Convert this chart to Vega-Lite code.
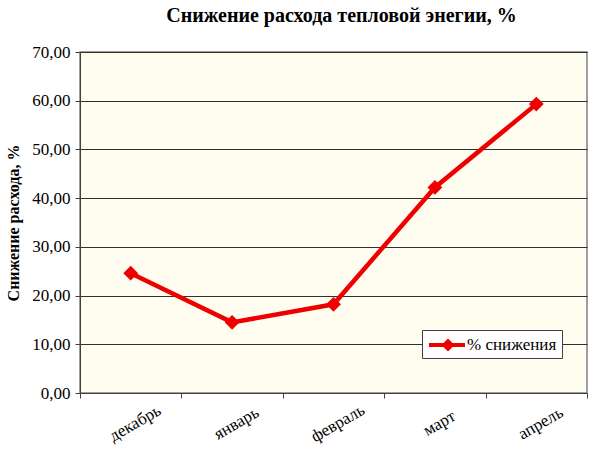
{
  "$schema": "https://vega.github.io/schema/vega-lite/v6.json",
  "width": 507,
  "height": 341,
  "autosize": {"type": "none"},
  "padding": {"left": 80, "top": 52, "right": 13, "bottom": 62},
  "background": "#ffffff",
  "title": {
    "text": "Снижение расхода тепловой энегии, %",
    "font": "Liberation Serif",
    "fontSize": 20,
    "fontWeight": "bold",
    "color": "#000000",
    "anchor": "middle",
    "offset": 17,
    "dx": 8
  },
  "config": {
    "view": {"fill": "#FFFCF0", "stroke": "#808080", "strokeWidth": 1.5},
    "font": "Liberation Serif",
    "axis": {"labelFont": "Liberation Serif", "titleFont": "Liberation Serif"},
    "legend": {"labelFont": "Liberation Serif"}
  },
  "data": {
    "values": [
      {"month": "декабрь", "value": 24.6, "series": "% снижения"},
      {"month": "январь", "value": 14.5, "series": "% снижения"},
      {"month": "февраль", "value": 18.2, "series": "% снижения"},
      {"month": "март", "value": 42.2, "series": "% снижения"},
      {"month": "апрель", "value": 59.3, "series": "% снижения"}
    ]
  },
  "encoding": {
    "x": {
      "field": "month",
      "type": "nominal",
      "sort": null,
      "bandPosition": 0.5,
      "scale": {"type": "band", "paddingInner": 0, "paddingOuter": 0},
      "axis": {
        "title": null,
        "labelAngle": -30,
        "labelAlign": "center",
        "labelBaseline": "top",
        "labelPadding": 18,
        "labelFontSize": 17,
        "labelColor": "#000000",
        "labelDx": -4,
        "domainColor": "#404040",
        "tickColor": "#404040",
        "tickBand": "extent",
        "tickSize": 5,
        "grid": false
      }
    },
    "y": {
      "field": "value",
      "type": "quantitative",
      "scale": {"domain": [0, 70], "nice": false},
      "axis": {
        "title": "Снижение расхода, %",
        "titleFontSize": 16,
        "titleFontWeight": "bold",
        "titleColor": "#000000",
        "titlePadding": 10,
        "values": [0, 10, 20, 30, 40, 50, 60, 70],
        "labelExpr": "replace(format(datum.value, '.2f'), '.', ',')",
        "labelFontSize": 17,
        "labelColor": "#000000",
        "labelPadding": 5,
        "domainColor": "#404040",
        "tickColor": "#404040",
        "tickSize": 5,
        "grid": true,
        "gridColor": "#303030",
        "gridWidth": 1
      }
    },
    "color": {
      "field": "series",
      "type": "nominal",
      "scale": {"range": ["#EE0000"]},
      "legend": {
        "title": null,
        "orient": "none",
        "legendX": 342,
        "legendY": 278,
        "direction": "vertical",
        "fillColor": "#ffffff",
        "strokeColor": "#404040",
        "padding": 5,
        "symbolType": "M-1.8,-0.2 L1.8,-0.2 L1.8,0.2 L-1.8,0.2 Z M0.1,-0.65 L0.75,0 L0.1,0.65 L-0.55,0 Z",
        "symbolSize": 400,
        "symbolFillColor": "#EE0000",
        "symbolStrokeWidth": 0,
        "symbolOffset": 10,
        "labelFontSize": 17,
        "labelColor": "#000000",
        "labelOffset": 10
      }
    }
  },
  "layer": [
    {
      "mark": {"type": "line", "strokeWidth": 4.5, "color": "#EE0000"}
    },
    {
      "mark": {"type": "point", "shape": "diamond", "filled": true, "size": 220, "opacity": 1, "color": "#EE0000"}
    }
  ]
}
